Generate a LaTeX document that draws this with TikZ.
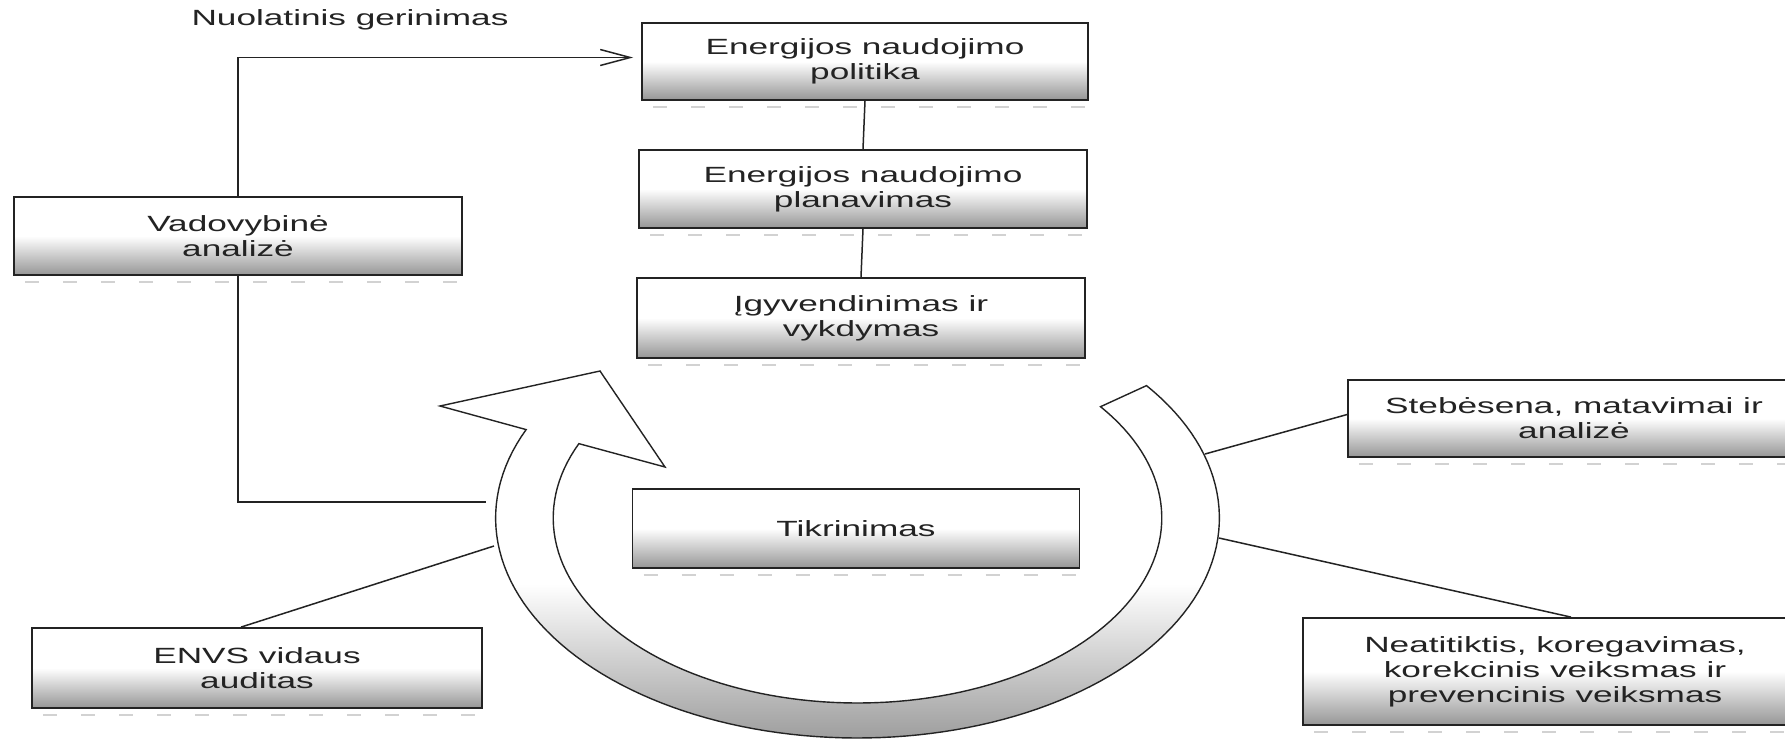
\documentclass[tikz,border=0pt]{standalone}
\usepackage{fontspec}
\setmainfont{Liberation Sans}[FakeStretch=1.6]
\usetikzlibrary{arrows.meta}
\definecolor{boxgray}{RGB}{150,150,150}
\definecolor{ringgray}{RGB}{158,158,158}
\definecolor{ink}{RGB}{35,35,35}
\pgfdeclareverticalshading{boxshade}{100bp}{color(0bp)=(boxgray); color(25bp)=(boxgray); color(50bp)=(white); color(100bp)=(white)}
\pgfdeclareverticalshading{ringshade}{100bp}{color(0bp)=(ringgray); color(25bp)=(ringgray); color(46bp)=(white); color(100bp)=(white)}
\begin{document}
\begin{tikzpicture}[x=0.5pt,y=-0.5pt,
  lbl/.style={font=\fontsize{11pt}{12.5pt}\selectfont, text=ink, align=center},
  procbox/.style={lbl, rectangle, draw=ink, line width=0.9pt, shade, shading=boxshade, inner sep=0pt},
  conn/.style={draw=ink, line width=0.75pt},
  ringline/.style={draw=ink, line width=0.7pt},
  shadowline/.style={gray!35, line width=1.2pt, dash pattern=on 7pt off 12pt}]
\useasboundingbox (0,0) rectangle (1785,741);
\clip (0,0) rectangle (1785,741);
\fill[white] (0,0) rectangle (1785,741);

% circular arrow (stretched circle)
\path[ringline, shade, shading=ringshade]
  plot[domain=37:-203.7, samples=120] ({857.5+361.9*cos(\x)},{518-220*sin(\x)})
  -- (440,406) -- (600,371) -- (665,467)
  -- plot[domain=-203.7:37, samples=120] ({857.5+304.3*cos(\x)},{518-185*sin(\x)})
  -- cycle;

% boxes
\node[procbox, minimum width=223pt, minimum height=38.5pt] (pol) at (865,61.5) {Energijos naudojimo\\politika};
\node[procbox, minimum width=224pt, minimum height=39pt] (plan) at (863,189) {Energijos naudojimo\\planavimas};
\node[procbox, minimum width=224pt, minimum height=40pt] (igy) at (861,318) {Įgyvendinimas ir\\vykdymas};
\node[procbox, minimum width=223.5pt, minimum height=39.5pt] (tik) at (856,528.5) {Tikrinimas};
\node[procbox, minimum width=224pt, minimum height=39pt] (vad) at (238,236) {Vadovybinė\\analizė};
\node[procbox, minimum width=225pt, minimum height=40pt] (envs) at (257,668) {ENVS vidaus\\auditas};
\node[procbox, minimum width=226pt, minimum height=38.5pt] (steb) at (1574,418.5) {Stebėsena, matavimai ir\\analizė};
\node[procbox, minimum width=252pt, minimum height=53.5pt] (neat) at (1555,671.5) {Neatitiktis, koregavimas,\\korekcinis veiksmas ir\\prevencinis veiksmas};
\node[lbl] (nuol) at (350,20) {Nuolatinis gerinimas};

% faint shadows under boxes
\foreach \b in {pol,plan,igy,tik,vad,envs,steb,neat}
  \draw[shadowline] ([yshift=-3pt,xshift=6pt]\b.south west) -- ([yshift=-3pt]\b.south east);

% connector end points on the ring
\coordinate (ringL) at (486,502);
\coordinate (ringE) at (494,546);
\coordinate (ringS) at (1205,454);
\coordinate (ringN) at (1219,538);

% connectors
\draw[conn, -{Straight Barb[length=15pt,width=8pt]}, shorten >=4pt] (vad.north) |- ([yshift=2pt]pol.west);
\draw[conn] (pol.south) -- (plan.north);
\draw[conn] (plan.south) -- (igy.north);
\draw[conn] (vad.south) |- (ringL);
\draw[conn] ([xshift=-8pt]envs.north) -- (ringE);
\draw[conn] (ringS) -- ([yshift=2pt]steb.west);
\draw[conn] (ringN) -- ([xshift=8pt]neat.north);
\end{tikzpicture}
\end{document}
